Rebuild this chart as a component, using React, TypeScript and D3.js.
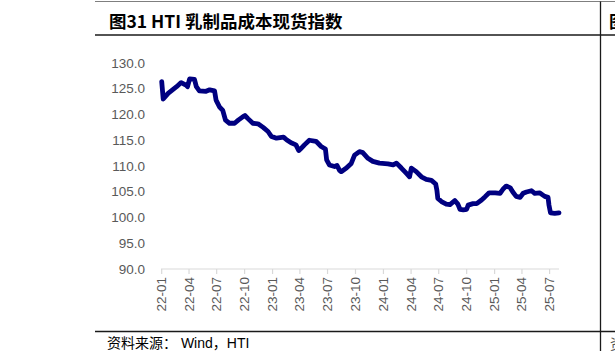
import React from "react";
import * as d3 from "d3";

const dates: string[] = [
  "2022-01-01","2022-01-06","2022-01-22","2022-02-19","2022-03-06","2022-03-22","2022-03-27","2022-04-03","2022-04-19","2022-04-25",
  "2022-05-05","2022-05-27","2022-06-08","2022-06-24","2022-06-29","2022-07-10","2022-07-21","2022-07-30","2022-08-12","2022-08-29",
  "2022-09-10","2022-09-26","2022-10-02","2022-10-12","2022-10-28","2022-11-14","2022-12-01","2022-12-17","2022-12-28","2023-01-14",
  "2023-02-06","2023-02-17","2023-03-03","2023-03-19","2023-03-28","2023-04-05","2023-04-16","2023-05-02","2023-05-24","2023-06-10",
  "2023-06-24","2023-06-28","2023-07-07","2023-07-24","2023-08-01","2023-08-10","2023-08-15","2023-09-01","2023-09-17","2023-09-28",
  "2023-10-14","2023-10-25","2023-11-11","2023-11-27","2023-12-19","2024-01-16","2024-02-02","2024-02-13","2024-02-29","2024-03-16",
  "2024-03-27","2024-04-02","2024-04-18","2024-05-05","2024-05-21","2024-06-07","2024-06-21","2024-06-25","2024-06-28","2024-07-10",
  "2024-07-26","2024-08-07","2024-08-23","2024-09-02","2024-09-09","2024-09-20","2024-10-01","2024-10-06","2024-10-22","2024-11-03",
  "2024-11-19","2024-11-30","2024-12-14","2025-01-03","2025-01-19","2025-01-30","2025-02-08","2025-02-21","2025-03-02","2025-03-13",
  "2025-03-26","2025-04-05","2025-04-16","2025-05-02","2025-05-13","2025-05-29","2025-06-15","2025-06-26","2025-06-29","2025-07-04",
  "2025-07-18","2025-08-01",
];

const values: number[] = [
  126.4,123.0,124.1,125.4,126.2,125.7,125.4,126.9,126.8,125.4,
  124.6,124.5,124.8,124.6,122.8,121.5,120.8,118.9,118.3,118.3,
  118.9,119.6,119.8,119.2,118.3,118.2,117.5,116.7,115.75,115.4,
  115.6,115.05,114.5,114.1,113.0,113.4,114.1,115.0,114.8,113.8,
  113.3,111.2,110.2,109.9,110.1,109.1,108.9,109.6,110.5,112.1,
  112.8,112.6,111.5,110.9,110.55,110.4,110.2,110.55,109.6,108.6,
  107.9,109.6,108.9,107.9,107.4,107.2,106.5,105.3,103.7,103.1,
  102.6,102.5,103.3,102.6,101.6,101.5,101.6,102.4,102.7,102.7,
  103.4,104.0,104.8,104.8,104.7,105.6,106.1,105.8,104.95,104.1,
  103.9,104.7,104.95,105.2,104.7,104.8,104.1,103.9,102.4,100.9,
  100.8,100.9,
];

const yTicks: number[] = [90, 95, 100, 105, 110, 115, 120, 125, 130];
const xTickLabels: string[] = [
  "22-01","22-04","22-07","22-10","23-01","23-04","23-07","23-10",
  "24-01","24-04","24-07","24-10","25-01","25-04","25-07",
];

const title = "图31 HTI 乳制品成本现货指数";
const source = "资料来源： Wind，HTI";

const parse = d3.timeParse("%Y-%m-%d");
const tickParse = d3.timeParse("%y-%m");

export default function App() {
  const W = 615, H = 361;
  const x = d3.scaleTime()
    .domain([new Date(2022, 0, 1), new Date(2025, 7, 1)])
    .range([161.7, 559]);
  const y = d3.scaleLinear().domain([90, 130]).range([269, 63]);
  const pts = dates.map((d, i) => ({ d: parse(d) as Date, v: values[i] }));
  const line = d3.line<{ d: Date; v: number }>()
    .x((p) => x(p.d))
    .y((p) => y(p.v));
  const grey = "#595959";
  const labelFont = "'Liberation Sans', Arial, sans-serif";
  return (
    <div style={{ position: "fixed", left: 0, top: 0, width: W, height: H, background: "#fff" }}>
      <svg width={W} height={H} style={{ display: "block" }}>
        <rect width={W} height={H} fill="#fff" />
        <line x1={95} x2={615} y1={1.5} y2={1.5} stroke="#7f7f7f" strokeWidth={1} />
        <line x1={95} x2={615} y1={35} y2={35} stroke="#1a1a1a" strokeWidth={1.3} />
        <line x1={95} x2={615} y1={331.5} y2={331.5} stroke="#1a1a1a" strokeWidth={1.3} />
        <line x1={600.5} x2={600.5} y1={1.5} y2={351} stroke="#1a1a1a" strokeWidth={1.3} />
        <text x={109} y={20.5} dominantBaseline="central" fontFamily="'Noto Sans CJK SC', 'Noto Sans', sans-serif" fontWeight={700} fontSize={17.5} fill="#000">{title}</text>
        <text x={609} y={20.5} dominantBaseline="central" fontFamily="'Noto Sans CJK SC', sans-serif" fontWeight={700} fontSize={17.5} fill="#000">图</text>
        <text x={107} y={342.5} dominantBaseline="central" fontFamily={`${labelFont}, 'Noto Sans CJK SC'`} fontSize={14} fill="#000">{source}</text>
        <text x={610} y={342.5} dominantBaseline="central" fontFamily="'Noto Sans CJK SC', sans-serif" fontSize={14} fill="#555">资</text>
        {yTicks.map((t) => (
          <text key={t} x={145} y={y(t)} textAnchor="end" dominantBaseline="central" fontFamily={labelFont} fontSize={13.5} fill={grey}>
            {t.toFixed(1)}
          </text>
        ))}
        <line x1={161} x2={559} y1={269} y2={269} stroke="#d9d9d9" strokeWidth={1.2} />
        {xTickLabels.map((lab) => {
          const xx = x(tickParse(lab) as Date);
          return (
            <g key={lab}>
              <line x1={xx} x2={xx} y1={269} y2={274} stroke="#d9d9d9" strokeWidth={1.2} />
              <text
                transform={`translate(${xx},277) rotate(-90)`}
                textAnchor="end"
                dominantBaseline="central"
                fontFamily={labelFont}
                fontSize={13.5}
                fill={grey}
              >
                {lab}
              </text>
            </g>
          );
        })}
        <path d={line(pts) || ""} fill="none" stroke="#000080" strokeWidth={4.8} strokeLinejoin="round" strokeLinecap="round" />
      </svg>
    </div>
  );
}
